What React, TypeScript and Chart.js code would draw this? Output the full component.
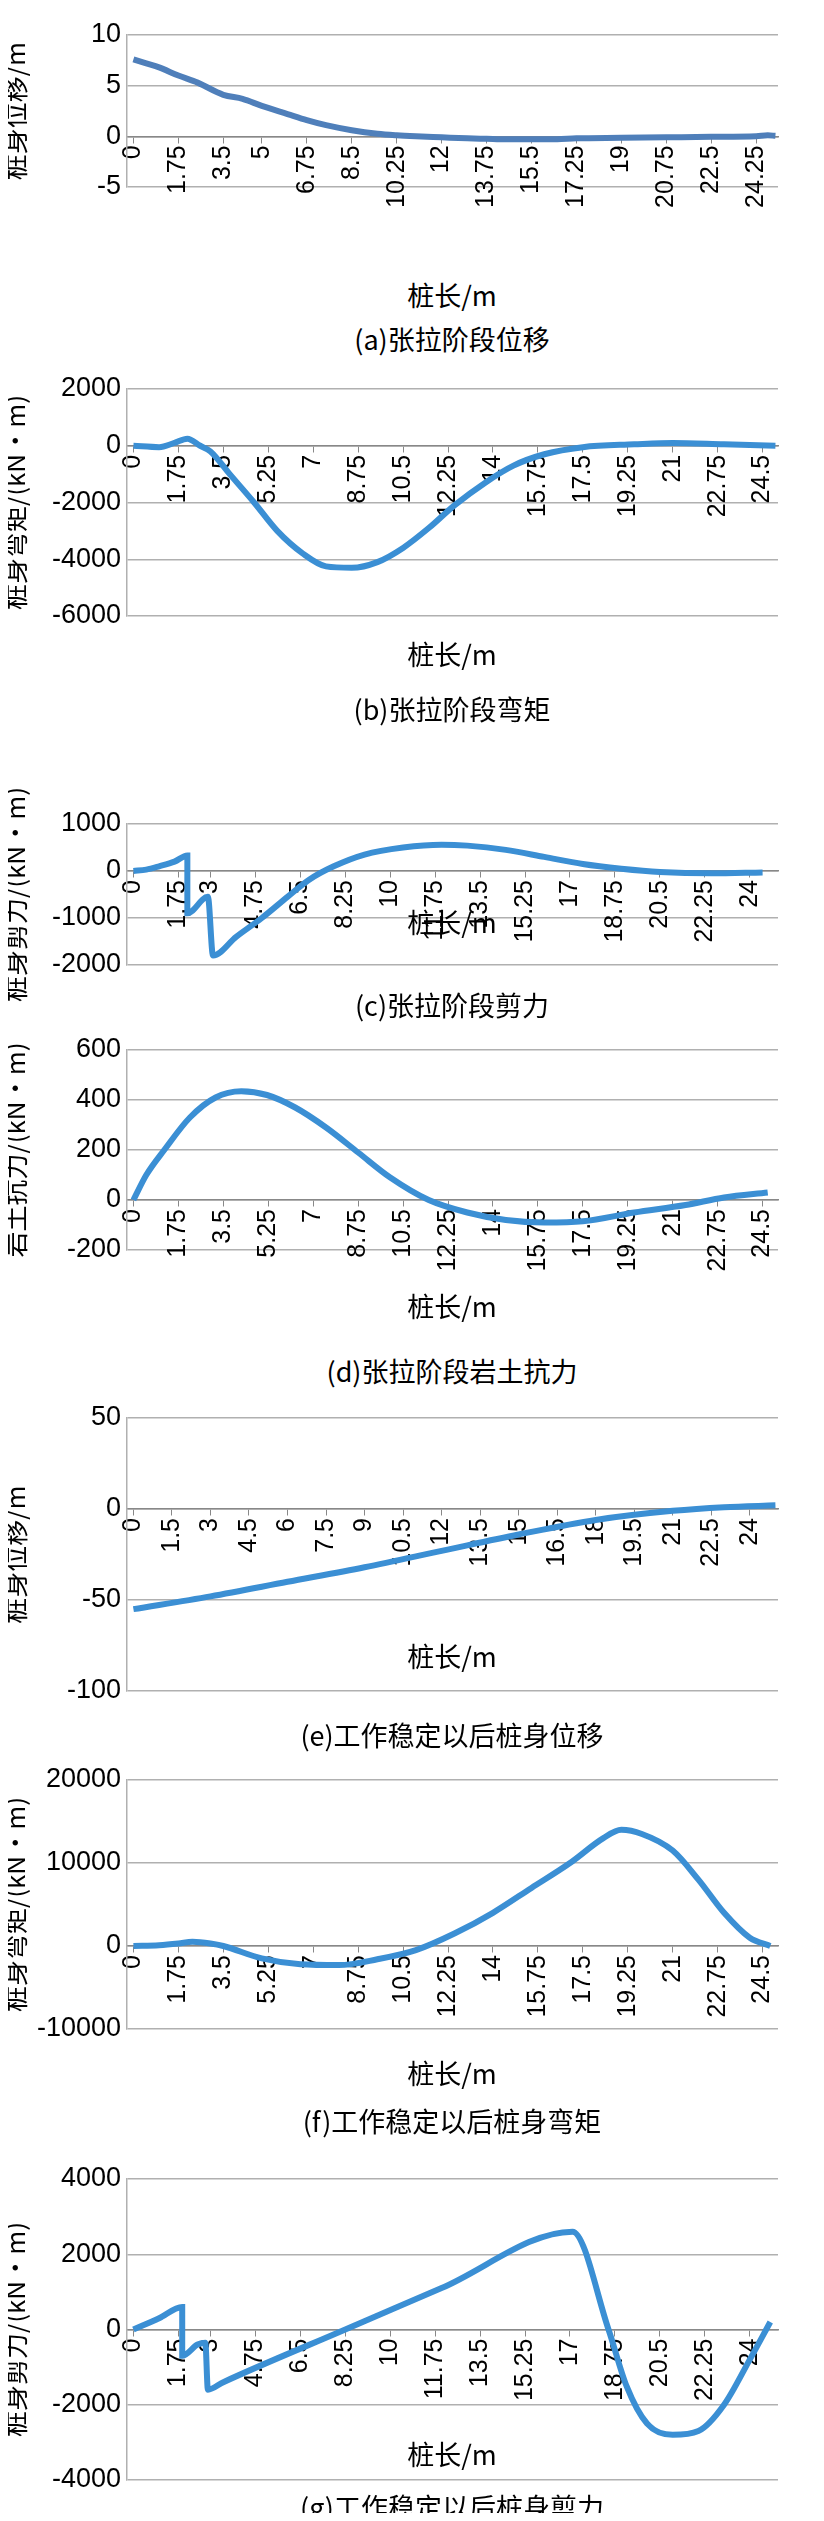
import React, { useEffect, useRef } from "react";
import { Chart, registerables } from "chart.js";
Chart.register(...registerables);

// (a) 张拉阶段位移
const aX = [0, 0.5, 1, 1.75, 2.5, 3.5, 4.25, 5, 6, 6.75, 7.5, 8.5, 9.5, 10.25, 11, 12, 13, 13.75, 14.5, 15.5, 16.5, 17.25, 19, 20.75, 22.5, 24.25, 24.7, 25];
const aY = [7.6, 7.2, 6.8, 6.0, 5.3, 4.1, 3.7, 3.0, 2.2, 1.6, 1.1, 0.6, 0.25, 0.1, 0.0, -0.1, -0.2, -0.25, -0.3, -0.3, -0.28, -0.2, -0.15, -0.1, -0.05, 0.0, 0.1, 0.05];
const aTicks = [0, 1.75, 3.5, 5, 6.75, 8.5, 10.25, 12, 13.75, 15.5, 17.25, 19, 20.75, 22.5, 24.25];

// (b) 张拉阶段弯矩
const bX = [0, 1, 1.6, 2.1, 2.6, 3.0, 3.75, 4.7, 5.6, 6.6, 7.5, 8.5, 9.5, 10.5, 11.5, 12.5, 13.7, 14.8, 16, 17.5, 19.5, 21, 23, 25];
const bY = [0, -50, 100, 250, 0, -200, -1000, -2000, -3000, -3800, -4250, -4300, -4100, -3600, -2900, -2100, -1300, -700, -300, -50, 50, 100, 50, 0];
const bTicks = [0, 1.75, 3.5, 5.25, 7, 8.75, 10.5, 12.25, 14, 15.75, 17.5, 19.25, 21, 22.75, 24.5];

// (c) 张拉阶段剪力
const cX = [0, 0.5, 1, 1.6, 2.1, 2.1, 2.9, 3.1, 4, 5, 6, 6.8, 7.8, 9, 10.5, 12, 13, 14.5, 16, 17.5, 19, 20.5, 22.5, 24.5];
const cY = [0, 30, 100, 200, 330, -900, -550, -1800, -1400, -1000, -550, -200, 100, 350, 500, 560, 540, 450, 300, 150, 50, -20, -50, -30];
const cTicks = [0, 1.75, 3, 4.75, 6.5, 8.25, 10, 11.75, 13.5, 15.25, 17, 18.75, 20.5, 22.25, 24];

// (d) 张拉阶段岩土抗力
const dX = [0, 0.5, 1.2, 2.2, 3.2, 4.2, 5.2, 6.3, 7.5, 8.75, 10, 11.5, 13, 14.5, 16, 17.5, 19.5, 21.5, 23, 24.7];
const dY = [0, 100, 200, 330, 410, 435, 420, 370, 290, 190, 90, 0, -50, -80, -90, -85, -50, -20, 10, 30];
const dTicks = [0, 1.75, 3.5, 5.25, 7, 8.75, 10.5, 12.25, 14, 15.75, 17.5, 19.25, 21, 22.75, 24.5];

// (e) 工作稳定以后桩身位移
const eX = [0, 3, 6, 9, 12, 15, 18, 21, 23, 25];
const eY = [-55, -48, -40, -32, -23, -14, -6, -1, 1, 2];
const eTicks = [0, 1.5, 3, 4.5, 6, 7.5, 9, 10.5, 12, 13.5, 15, 16.5, 18, 19.5, 21, 22.5, 24];

// (f) 工作稳定以后桩身弯矩
const fX = [0, 1, 1.75, 2.3, 3, 3.5, 5, 6.5, 8, 9.5, 11, 12.5, 14, 15.5, 17, 18.3, 19, 19.8, 21, 22, 23, 24, 24.8];
const fY = [0, 100, 300, 500, 300, 0, -1500, -2200, -2300, -1600, -500, 1500, 4000, 7000, 10000, 13000, 14000, 13500, 11500, 8000, 4000, 1000, 0];
const fTicks = [0, 1.75, 3.5, 5.25, 7, 8.75, 10.5, 12.25, 14, 15.75, 17.5, 19.25, 21, 22.75, 24.5];

// (g) 工作稳定以后桩身剪力
const gX = [0, 1, 1.9, 1.9, 2.5, 2.8, 2.9, 3.5, 8.25, 12, 17.1, 18.5, 19.2, 20, 21, 22, 23, 24, 24.8];
const gY = [0, 300, 600, -700, -400, -350, -1600, -1400, 0, 1100, 2600, 0, -1500, -2500, -2800, -2700, -2000, -800, 200];
const gTicks = [0, 1.75, 3, 4.75, 6.5, 8.25, 10, 11.75, 13.5, 15.25, 17, 18.75, 20.5, 22.25, 24];

const PAD = 80;

type Cfg = {
  xs: number[]; ys: number[]; ticks: number[];
  min: number; max: number; step: number;
  ytitle: string; caption: string;
  plotTop: number; plotBottom: number; xtitleY: number; captionY: number; color: string;
};

const charts: Cfg[] = [
  { xs: aX, ys: aY, ticks: aTicks, min: -5, max: 10, step: 5, ytitle: "桩身位移/m", caption: "(a)张拉阶段位移", plotTop: 35, plotBottom: 187, xtitleY: 294, captionY: 338, color: "#4f7fba" },
  { xs: bX, ys: bY, ticks: bTicks, min: -6000, max: 2000, step: 2000, ytitle: "桩身弯矩/(kN•m)", caption: "(b)张拉阶段弯矩", plotTop: 389, plotBottom: 616, xtitleY: 653, captionY: 708, color: "#3b8fd4" },
  { xs: cX, ys: cY, ticks: cTicks, min: -2000, max: 1000, step: 1000, ytitle: "桩身剪力/(kN•m)", caption: "(c)张拉阶段剪力", plotTop: 824, plotBottom: 965, xtitleY: 921, captionY: 1004, color: "#3b8fd4" },
  { xs: dX, ys: dY, ticks: dTicks, min: -200, max: 600, step: 200, ytitle: "岩土抗力/(kN•m)", caption: "(d)张拉阶段岩土抗力", plotTop: 1050, plotBottom: 1250, xtitleY: 1305, captionY: 1370, color: "#3b8fd4" },
  { xs: eX, ys: eY, ticks: eTicks, min: -100, max: 50, step: 50, ytitle: "桩身位移/m", caption: "(e)工作稳定以后桩身位移", plotTop: 1418, plotBottom: 1691, xtitleY: 1655, captionY: 1734, color: "#3b8fd4" },
  { xs: fX, ys: fY, ticks: fTicks, min: -10000, max: 20000, step: 10000, ytitle: "桩身弯矩/(kN•m)", caption: "(f)工作稳定以后桩身弯矩", plotTop: 1780, plotBottom: 2029, xtitleY: 2072, captionY: 2120, color: "#3b8fd4" },
  { xs: gX, ys: gY, ticks: gTicks, min: -4000, max: 4000, step: 2000, ytitle: "桩身剪力/(kN•m)", caption: "(g)工作稳定以后桩身剪力", plotTop: 2179, plotBottom: 2480, xtitleY: 2453, captionY: 2506, color: "#3b8fd4" },
];

const SERIF = "'Noto Sans CJK SC', 'DejaVu Sans', sans-serif";
const SANS = "'Liberation Sans', Arial, sans-serif";

function Block({ c }: { c: Cfg }) {
  const ref = useRef<HTMLCanvasElement>(null);
  useEffect(() => {
    const ch = new Chart(ref.current!, {
      type: "line",
      data: {
        datasets: [{
          data: c.xs.map((x, i) => ({ x, y: c.ys[i] })),
          borderColor: c.color, borderWidth: 6, pointRadius: 0, cubicInterpolationMode: "monotone", fill: false,
        }],
      },
      options: {
        animation: false, responsive: false,
        layout: { padding: { top: PAD, bottom: PAD, left: 0, right: 46 } },
        plugins: { legend: { display: false }, tooltip: { enabled: false } },
        scales: {
          x: {
            type: "linear", min: -0.25, max: 25.1, position: { y: 0 } as any,
            afterBuildTicks: (s: any) => { s.ticks = c.ticks.map((v) => ({ value: v })); },
            ticks: { autoSkip: false, maxRotation: 90, minRotation: 90, color: "#000", font: { family: SANS, size: 25 }, callback: (v: any) => String(v) },
            grid: { drawOnChartArea: false, color: "#888", tickLength: 6 },
            border: { color: "#888", width: 1.5 },
            title: { display: false },
          },
          y: {
            min: c.min, max: c.max,
            afterFit: (s: any) => { s.width = 127; },
            ticks: { stepSize: c.step, color: "#000", font: { family: SANS, size: 27 }, padding: 6, callback: (v: any) => String(v) },
            grid: { color: "#b0b0b0", lineWidth: 1.5, tickLength: 0 },
            border: { color: "#b0b0b0", width: 1.5 },
            title: { display: true, text: c.ytitle, color: "#000", font: { family: SERIF, size: 26 }, padding: 0 },
          },
        },
      },
    });
    return () => ch.destroy();
  }, []);
  const h = c.plotBottom - c.plotTop + 2 * PAD;
  const txt = { position: "absolute" as const, left: 452, transform: "translate(-50%,-50%)", fontFamily: SERIF, fontSize: 27, whiteSpace: "nowrap" as const, color: "#000" };
  return (
    <>
      <canvas ref={ref} width={824} height={h}
        style={{ position: "absolute", left: 0, top: c.plotTop - PAD, width: 824, height: h, pointerEvents: "none" }} />
      <div style={{ ...txt, top: c.xtitleY }}>桩长/m</div>
      <div style={{ ...txt, top: c.captionY }}>{c.caption}</div>
    </>
  );
}

export default function App() {
  return (
    <div style={{ position: "relative", width: 824, height: 2521, margin: -8, background: "#fff", overflow: "hidden" }}>
      {charts.map((c, i) => <Block key={i} c={c} />)}
    </div>
  );
}
